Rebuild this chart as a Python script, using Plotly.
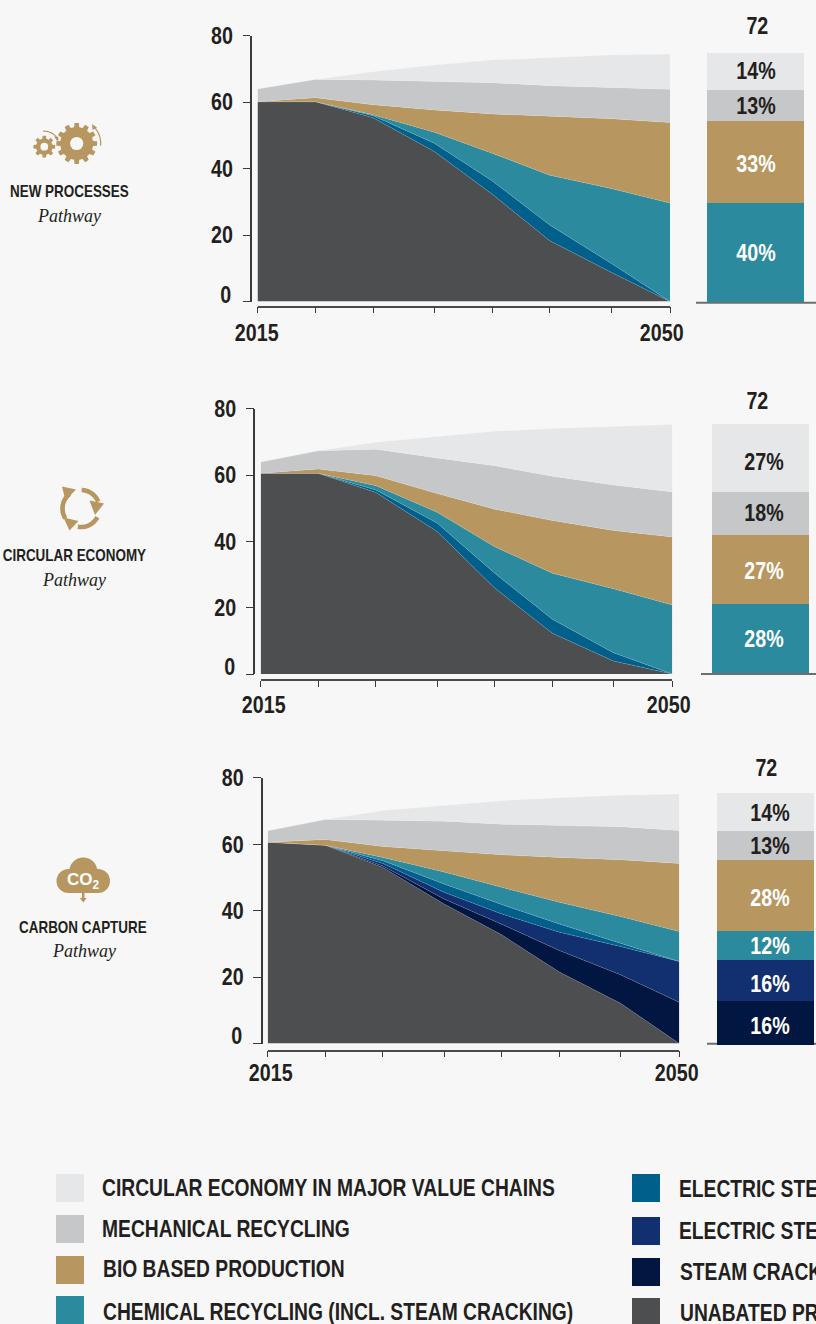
import json
import math
import plotly.graph_objects as go

W, H = 816, 1324
NARROW = "Liberation Sans"   # squeezed to condensed proportions after drawing
SERIF = "Liberation Serif"
INK = "#231f20"
BG = "#f7f7f7"
GOLD = "#b7965f"

# ---------- data ----------
NODES = [2015, 2019.9, 2024.8, 2030, 2034.9, 2039.8, 2045, 2050]

NAMES = ["UNABATED PRODUCTION", "STEAM CRACKING WITH CCS", "ELECTRIC STEAM CRACKING (RENEWABLE)",
         "ELECTRIC STEAM CRACKING", "CHEMICAL RECYCLING (INCL. STEAM CRACKING)",
         "BIO BASED PRODUCTION", "MECHANICAL RECYCLING",
         "CIRCULAR ECONOMY IN MAJOR VALUE CHAINS"]
COLORS = ["#4d4e50", "#011640", "#12306f", "#005f8b", "#2b8a9e", "#b7965f", "#c6c7c9", "#e6e7e9"]

NP_UNABATED = [60.1, 60.1, 55.3, 45.1, 32.3, 18.3, 8.8, 0]
NP_ELECTRIC = [0, 0, 0.6, 2.5, 4.0, 4.7, 2.7, 0]
NP_CHEMICAL = [0, 0, 0.3, 3.3, 8.3, 15.0, 22.5, 29.6]
NP_BIO = [0, 1.2, 3.0, 6.7, 11.8, 17.8, 21.0, 24.2]
NP_MECH = [3.8, 5.5, 7.4, 8.6, 9.4, 9.1, 9.4, 10.0]
NP_CIRC = [0, 0, 2.5, 4.9, 6.8, 8.4, 9.7, 10.6]

CE_UNABATED = [60.5, 60.5, 54.7, 43.0, 25.9, 12.3, 3.9, 0]
CE_ELECTRIC = [0, 0, 0.8, 2.5, 4.5, 4.2, 2.5, 0]
CE_CHEMICAL = [0, 0, 1.3, 3.3, 8.0, 13.9, 19.3, 20.8]
CE_BIO = [0, 1.3, 3.0, 5.6, 11.3, 15.9, 17.6, 20.5]
CE_MECH = [3.4, 5.5, 8.0, 10.7, 13.1, 13.3, 13.7, 13.6]
CE_CIRC = [0, 0, 2.1, 6.5, 10.4, 14.4, 17.7, 20.3]

CC_UNABATED = [60.6, 59.7, 53.0, 42.0, 32.7, 21.5, 12.1, 0]
CC_STEAM = [0, 0, 0.4, 1.5, 3.2, 6.5, 8.6, 12.4]
CC_ELECTRIC_B = [0, 0, 0.8, 2.0, 3.1, 5.5, 8.5, 12.3]
CC_ELECTRIC = [0, 0, 0.8, 2.5, 2.8, 2.5, 1.0, 0]
CC_CHEMICAL = [0, 0, 1.0, 3.6, 5.2, 6.5, 8.0, 9.0]
CC_BIO = [0, 1.7, 3.3, 6.4, 9.8, 13.5, 17.1, 20.5]
CC_MECH = [3.4, 6.0, 7.9, 8.9, 9.2, 9.7, 9.9, 9.9]
CC_CIRC = [0, 0, 2.9, 4.8, 7.1, 8.3, 9.5, 11.0]

NP_BAR_LAYERS = [4, 5, 6, 7]
NP_BAR_VALUES = [29.8, 24.7, 9.3, 11.0]
NP_BAR_LABELS = ["40%", "33%", "13%", "14%"]
CE_BAR_LAYERS = [4, 5, 6, 7]
CE_BAR_VALUES = [21.0, 20.8, 12.8, 20.5]
CE_BAR_LABELS = ["28%", "27%", "18%", "27%"]
CC_BAR_LAYERS = [1, 2, 4, 5, 6, 7]
CC_BAR_VALUES = [13.1, 12.3, 9.0, 21.1, 9.0, 11.2]
CC_BAR_LABELS = ["16%", "16%", "12%", "28%", "13%", "14%"]
BAR_TOTAL = "72"

Y_TICKS = [20, 40, 60, 80]
YEAR_LABELS = ["2015", "2050"]

# ---------- layout of the three panels (page pixels) ----------
PANELS = [
    dict(layers={0: NP_UNABATED, 3: NP_ELECTRIC, 4: NP_CHEMICAL, 5: NP_BIO, 6: NP_MECH, 7: NP_CIRC},
         bar=(NP_BAR_LAYERS, NP_BAR_VALUES, NP_BAR_LABELS),
         x0=257.5, x1=670, y0=301.5, y80=35.5, yaxis_x=251, xaxis_y=306.7,
         bar_x=(707, 804), bar_y0=302, base_x=(696, 816), base_y=302.7, total=(757, 26),
         bar_text_x=756, bar_text_y=[253, 164, 106, 71],
         year_c=(256, 661), year_y=333, zero=(225, 295),
         title="NEW PROCESSES", title_xy=(69, 191), path_xy=(69, 216)),
    dict(layers={0: CE_UNABATED, 3: CE_ELECTRIC, 4: CE_CHEMICAL, 5: CE_BIO, 6: CE_MECH, 7: CE_CIRC},
         bar=(CE_BAR_LAYERS, CE_BAR_VALUES, CE_BAR_LABELS),
         x0=260.7, x1=672.3, y0=674, y80=408.7, yaxis_x=254.3, xaxis_y=680,
         bar_x=(712, 809), bar_y0=673.7, base_x=(701, 816), base_y=674, total=(757, 401),
         bar_text_x=764, bar_text_y=[639, 571, 513, 462],
         year_c=(263, 668.5), year_y=705, zero=(229, 667),
         title="CIRCULAR ECONOMY", title_xy=(74, 555), path_xy=(74, 580)),
    dict(layers={0: CC_UNABATED, 1: CC_STEAM, 2: CC_ELECTRIC_B, 3: CC_ELECTRIC, 4: CC_CHEMICAL,
                 5: CC_BIO, 6: CC_MECH, 7: CC_CIRC},
         bar=(CC_BAR_LAYERS, CC_BAR_VALUES, CC_BAR_LABELS),
         x0=267.7, x1=679.3, y0=1043.5, y80=777.7, yaxis_x=261.7, xaxis_y=1050.7,
         bar_x=(717, 814), bar_y0=1045, base_x=(707, 816), base_y=1043.7, total=(766.5, 768),
         bar_text_x=770, bar_text_y=[1026, 984, 946, 898, 846, 813],
         year_c=(270.5, 676), year_y=1073, zero=(236, 1036),
         title="CARBON CAPTURE", title_xy=(83, 927), path_xy=(84, 951)),
]

LEGEND = [  # layer index, swatch x, swatch y, text x, text y
    (7, 56, 1174, 102, 1188), (6, 56, 1215, 102, 1229), (5, 56, 1256, 103, 1269), (4, 56, 1296, 103, 1312),
    (3, 632, 1174, 679.5, 1189), (2, 632, 1217, 679.5, 1231), (1, 632, 1258, 680, 1272), (0, 632, 1298, 680, 1313),
]


def fx(px):
    return px / W


def fy(py):
    return 1 - py / H


fig = go.Figure()
shapes, annos = [], []
layout = {}


def label(text, x, y, size=24, color=INK, family=NARROW, bold=True, italic=False, xanchor="center"):
    t = text
    if bold:
        t = f"<b>{t}</b>"
    if italic:
        t = f"<i>{t}</i>"
    annos.append(dict(text=t, x=fx(x), y=fy(y), xref="paper", yref="paper", showarrow=False,
                      xanchor=xanchor, yanchor="middle", align="left",
                      font=dict(family=family, size=size, color=color)))


for i, p in enumerate(PANELS):
    n = 2 * i
    xa, ya, xb = f"xaxis{n + 1 if n else ''}", f"yaxis{i + 1 if i else ''}", f"xaxis{n + 2}"
    xref, yref, xbref = f"x{n + 1 if n else ''}", f"y{i + 1 if i else ''}", f"x{n + 2}"
    yb, ybref = f"yaxis{i + 4}", f"y{i + 4}"
    span = p["y0"] - p["y80"]

    layout[xa] = dict(domain=[fx(p["x0"]), fx(p["x1"])], range=[NODES[0], NODES[-1]], anchor="free",
                      position=fy(p["xaxis_y"]), tickmode="array", tickvals=NODES,
                      showticklabels=False, ticks="outside", ticklen=6, tickwidth=1,
                      tickcolor="#3a3a3c", showline=True, linecolor="#4a4a4c", linewidth=1.5,
                      showgrid=False, zeroline=False)
    layout[ya] = dict(domain=[fy(p["y0"]), fy(p["y80"])], range=[0, 80], anchor="free",
                      position=fx(p["yaxis_x"]), tickmode="array", tickvals=Y_TICKS,
                      ticktext=[str(v) for v in Y_TICKS],
                      minor=dict(tickmode="array", tickvals=[0], ticks="outside", ticklen=7.5, tickwidth=1,
                                 tickcolor="#3a3a3c", showgrid=False),
                      ticks="outside", ticklen=7.5, tickwidth=1, tickcolor="#3a3a3c",
                      ticklabelstandoff=5, tickfont=dict(family=NARROW, size=24, color=INK, weight="bold"),
                      showline=True, linecolor="#3a3a3c", linewidth=1.5, showgrid=False, zeroline=False)
    layout[xb] = dict(domain=[fx(p["bar_x"][0]), fx(p["bar_x"][1])], range=[-0.5, 0.5], visible=False,
                      anchor=ybref)
    layout[yb] = dict(domain=[fy(p["bar_y0"]), fy(p["bar_y0"] - span)], range=[0, 80], visible=False,
                      anchor=xbref)

    for idx in sorted(p["layers"]):
        fig.add_trace(go.Scatter(x=NODES, y=p["layers"][idx], name=NAMES[idx], mode="lines",
                                 stackgroup=f"s{i}", fillcolor=COLORS[idx],
                                 line=dict(width=0.4, color="rgba(255,255,255,0.35)"),
                                 xaxis=xref, yaxis=yref, showlegend=False))

    for (idx, v, lab), ty in zip(zip(*p["bar"]), p["bar_text_y"]):
        fig.add_trace(go.Bar(x=[0], y=[v], name=NAMES[idx], marker=dict(color=COLORS[idx], line_width=0),
                             width=1, xaxis=xbref, yaxis=ybref, showlegend=False))
        label(lab, p["bar_text_x"], ty - 0.5, color=INK if idx >= 6 else "white")

    shapes.append(dict(type="line", xref="paper", yref="paper", x0=fx(p["base_x"][0]), x1=fx(p["base_x"][1]),
                       y0=fy(p["base_y"]), y1=fy(p["base_y"]), line=dict(color="#6d6e71", width=2), layer="below"))

    label(BAR_TOTAL, p["total"][0], p["total"][1] - 0.5)
    label("0", p["zero"][0], p["zero"][1] - 0.5)
    label(YEAR_LABELS[0], p["year_c"][0], p["year_y"] - 0.5)
    label(YEAR_LABELS[1], p["year_c"][1], p["year_y"] - 0.5)
    label(p["title"], *p["title_xy"], size=16.4)
    label("Pathway", *p["path_xy"], size=18, family=SERIF, bold=False, italic=True)

# ---------- legend (runs off the page edge, as in the source) ----------
for idx, sx, sy, tx, ty in LEGEND:
    shapes.append(dict(type="rect", xref="paper", yref="paper", x0=fx(sx), x1=fx(sx + 28),
                       y0=fy(sy), y1=fy(sy + 28), fillcolor=COLORS[idx], line_width=0))
    label(NAMES[idx], tx - 2.3, ty, size=23.5, xanchor="left")


# ---------- pictograms ----------
def path(points, close=True):
    s = "M " + " L ".join(f"{fx(x):.5f},{fy(y):.5f}" for x, y in points)
    return s + (" Z" if close else "")


def arc(cx, cy, r, a0, a1, steps=24):
    return [(cx + r * math.cos(math.radians(a0 + (a1 - a0) * k / steps)),
             cy + r * math.sin(math.radians(a0 + (a1 - a0) * k / steps))) for k in range(steps + 1)]


def add_path(points, fill=GOLD, close=True, lw=0):
    d = dict(type="path", xref="paper", yref="paper", path=path(points, close))
    if close:
        d.update(fillcolor=fill, line_width=lw)
    else:
        d.update(line=dict(color=fill, width=lw))
    shapes.append(d)


def circle(cx, cy, r, fill):
    shapes.append(dict(type="circle", xref="paper", yref="paper", x0=fx(cx - r), x1=fx(cx + r),
                       y0=fy(cy + r), y1=fy(cy - r), fillcolor=fill, line_width=0))


def gear(cx, cy, outer, inner, hole, teeth):
    pts = []
    step = 360 / teeth
    for t in range(teeth):
        a = t * step
        for off, r in [(-0.30, inner), (-0.20, outer), (0.20, outer), (0.30, inner)]:
            b = math.radians(a + off * step)
            pts.append((cx + r * math.cos(b), cy + r * math.sin(b)))
    add_path(pts)
    circle(cx, cy, hole, BG)


gear(44.3, 146.7, 11, 8.3, 3.9, 8)
gear(76.7, 143.5, 20.5, 16.5, 6.6, 12)
add_path(arc(44.3, 146.7, 15.5, -95, -25), close=False, lw=1.2)
add_path([(58.5, 137), (54, 136.5), (57.5, 141.5)])
add_path(arc(76.7, 143.5, 24, -40, 5), close=False, lw=1.2)
add_path([(92, 124), (97, 127.5), (92.5, 130)])

RC, RR = (81, 508.5), 18.5
add_path(arc(*RC, RR, -88, -22), close=False, lw=4.6)
add_path(arc(*RC, RR, 28, 100), close=False, lw=4.6)
add_path(arc(*RC, RR, 148, 232), close=False, lw=4.6)
add_path([(62, 486.5), (76, 489.5), (65.5, 500.5)])
add_path([(89.5, 500.5), (104, 503.5), (95, 515)])
add_path([(63.5, 517.5), (78.5, 521), (69.5, 530.5)])

for cx, cy, r in [(83.3, 871.5, 14), (68.5, 881, 12), (98, 881, 12)]:
    circle(cx, cy, r, GOLD)
shapes.append(dict(type="rect", xref="paper", yref="paper", x0=fx(68.5), x1=fx(98), y0=fy(893), y1=fy(875),
                   fillcolor=GOLD, line_width=0))
shapes.append(dict(type="rect", xref="paper", yref="paper", x0=fx(82), x1=fx(84.5), y0=fy(899), y1=fy(892),
                   fillcolor=GOLD, line_width=0))
add_path([(79.8, 898), (86.7, 898), (83.3, 902.5)])
label("CO<sub>2</sub>", 83.3, 880.5, size=17, color="white", family="Arial, Liberation Sans")

fig.update_layout(width=W, height=H, margin=dict(l=0, r=0, t=0, b=0, autoexpand=False), autosize=False,
                  paper_bgcolor=BG, plot_bgcolor="rgba(0,0,0,0)", barmode="stack", bargap=0,
                  showlegend=False, shapes=shapes, annotations=annos, **layout)

LEFT_TEXTS = json.dumps(NAMES)
SQUEEZE_JS = """
document.body.style.margin='0';
document.body.style.overflow='hidden';
document.documentElement.style.background='#f7f7f7';
var LEFT = %s;
document.querySelectorAll('.main-svg text').forEach(function(t){
  var fam = (t.style.fontFamily || '');
  var s = t.textContent;
  if (fam.indexOf('Serif') >= 0 || fam.indexOf('Arial') >= 0 || !s) return;
  var b = t.getBBox();
  var anchor = t.getAttribute('text-anchor') || t.style.textAnchor || 'start';
  var px = b.x + b.width / 2;
  if (LEFT.indexOf(s) >= 0) px = b.x;
  else if (anchor === 'end') px = b.x + b.width;
  var old = t.getAttribute('transform') || '';
  t.setAttribute('transform', old + ' translate(' + px + ' 0) scale(0.82 1) translate(' + (-px) + ' 0)');
});
""" % LEFT_TEXTS

fig.write_html("out.html", include_plotlyjs=True, config={"displayModeBar": False}, post_script=SQUEEZE_JS)
